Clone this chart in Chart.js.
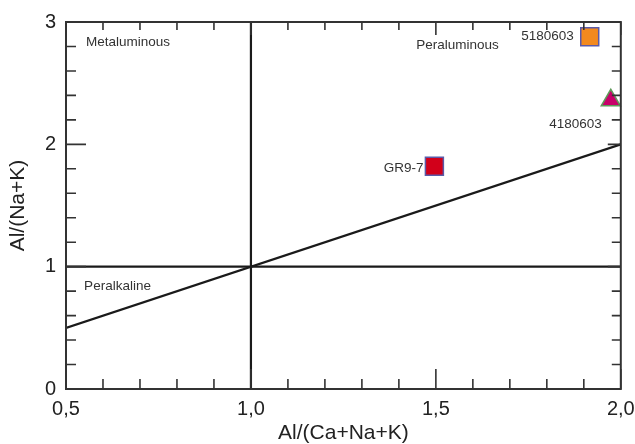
<!DOCTYPE html>
<html>
<head>
<meta charset="utf-8">
<script src="https://cdn.jsdelivr.net/npm/chart.js@4.4.1/dist/chart.umd.min.js"></script>
<style>
html, body { margin: 0; background: #fff; }
#wrap { width: 635px; height: 444px; }
</style>
</head>
<body>
<div id="wrap"><canvas id="c"></canvas></div>
<script>
// samples
const sampleNames = ['GR9-7', '4180603', '5180603'];
const sampleX = [1.496, 1.973, 1.916];
const sampleY = [1.82, 2.36, 2.88];

// field boundaries
const diagX = [0.5, 2.0];
const diagY = [0.5, 2.0];
const hlineX = [0.5, 2.0];
const hlineY = [1, 1];
const vlineX = [1, 1];
const vlineY = [0, 3];

// field names
const fieldNames = ['Metaluminous', 'Peraluminous', 'Peralkaline'];
const fieldX = [0.554, 1.447, 0.549];
const fieldY = [2.835, 2.81, 0.836];

const xTicks = [0.5, 1.0, 1.5, 2.0];
const yTicks = [0, 1, 2, 3];

function pts(xs, ys) {
    return xs.map((x, i) => ({ x: x, y: ys[i] }));
}

function lineSet(xs, ys) {
    return {
        data: pts(xs, ys),
        showLine: true,
        borderColor: '#1a1a1a',
        borderWidth: 2.2,
        pointRadius: 0,
        fill: false
    };
}

const FONT = "'Liberation Sans', Arial, sans-serif";

const overlay = {
    id: 'overlay',
    afterDatasetsDraw(chart) {
        const ctx = chart.ctx;
        const a = chart.chartArea;
        const xs = chart.scales.x, ys = chart.scales.y;
        ctx.save();
        // frame
        ctx.strokeStyle = '#333';
        ctx.lineWidth = 2;
        ctx.strokeRect(a.left, a.top, a.right - a.left, a.bottom - a.top);
        // inward ticks
        ctx.lineWidth = 1.6;
        ctx.beginPath();
        for (let i = 0; i <= 15; i++) {
            const v = 0.5 + i * 0.1;
            const px = xs.getPixelForValue(v);
            const major = i % 5 === 0;
            ctx.moveTo(px, a.bottom);
            ctx.lineTo(px, a.bottom - (major ? 20 : 10));
            ctx.moveTo(px, a.top);
            ctx.lineTo(px, a.top + (major ? 13 : 8));
        }
        for (let i = 0; i <= 15; i++) {
            const v = i * 0.2;
            const py = ys.getPixelForValue(v);
            const major = i % 5 === 0;
            ctx.moveTo(a.left, py);
            ctx.lineTo(a.left + (major ? 20 : 10), py);
            ctx.moveTo(a.right, py);
            ctx.lineTo(a.right - (major ? 13 : 9), py);
        }
        ctx.stroke();

        // field names
        ctx.fillStyle = '#333';
        ctx.font = '13.5px ' + FONT;
        ctx.textBaseline = 'middle';
        ctx.textAlign = 'left';
        fieldNames.forEach((t, i) => {
            ctx.fillText(t, xs.getPixelForValue(fieldX[i]), ys.getPixelForValue(fieldY[i]));
        });

        // sample names
        const off = [[-11, 2], [-9, 24], [-16, 0]];
        ctx.textAlign = 'right';
        sampleNames.forEach((t, i) => {
            ctx.fillText(t, xs.getPixelForValue(sampleX[i]) + off[i][0],
                ys.getPixelForValue(sampleY[i]) + off[i][1]);
        });
        ctx.restore();
    }
};

new Chart(document.getElementById('c'), {
    type: 'scatter',
    data: {
        datasets: [
            lineSet(diagX, diagY),
            lineSet(hlineX, hlineY),
            lineSet(vlineX, vlineY),
            {
                data: pts(sampleX, sampleY),
                pointStyle: ['rect', 'triangle', 'rect'],
                pointRadius: [12.7, 11, 12.7],
                backgroundColor: ['#d2001a', '#c8006a', '#f2891e'],
                borderColor: ['#5a5aa8', '#5f9a5a', '#5a5aa8'],
                borderWidth: 1.5,
                clip: false
            }
        ]
    },
    options: {
        responsive: true,
        maintainAspectRatio: false,
        animation: false,
        layout: { padding: { top: 22, right: 14, left: 0, bottom: 0 } },
        plugins: {
            legend: { display: false },
            tooltip: { enabled: false }
        },
        scales: {
            x: {
                type: 'linear',
                min: 0.5,
                max: 2.0,
                afterBuildTicks: (s) => { s.ticks = xTicks.map(v => ({ value: v })); },
                afterFit: (s) => { s.height = 55; s.paddingLeft = 0; s.paddingRight = 0; },
                ticks: {
                    callback: (v) => v.toFixed(1).replace('.', ','),
                    font: { family: FONT, size: 20 },
                    color: '#222',
                    padding: 8,
                    maxRotation: 0
                },
                grid: { display: false, drawTicks: false },
                border: { display: false },
                title: {
                    display: true,
                    text: 'Al/(Ca+Na+K)',
                    font: { family: FONT, size: 21, lineHeight: 1 },
                    color: '#222',
                    padding: { top: 0, bottom: 0 }
                }
            },
            y: {
                type: 'linear',
                min: 0,
                max: 3,
                afterBuildTicks: (s) => { s.ticks = yTicks.map(v => ({ value: v })); },
                afterFit: (s) => { s.width = 66; s.paddingTop = 0; s.paddingBottom = 0; },
                ticks: {
                    font: { family: FONT, size: 20 },
                    color: '#222',
                    padding: 10
                },
                grid: { display: false, drawTicks: false },
                border: { display: false },
                title: {
                    display: true,
                    text: 'Al/(Na+K)',
                    font: { family: FONT, size: 21 },
                    color: '#222',
                    padding: { top: 6, bottom: 0 }
                }
            }
        }
    },
    plugins: [overlay]
});
</script>
</body>
</html>
